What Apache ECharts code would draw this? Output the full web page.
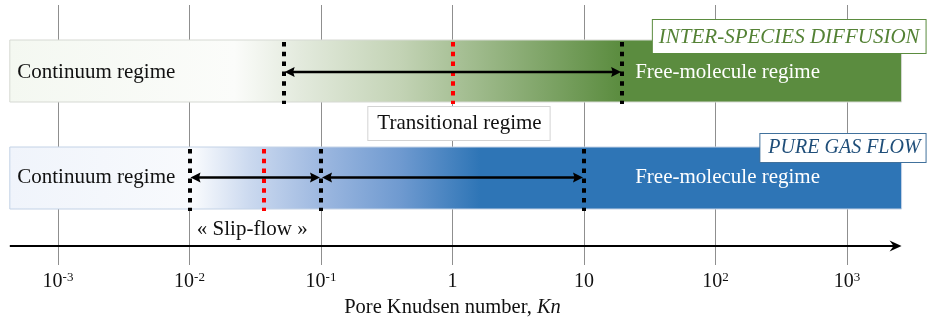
<!DOCTYPE html>
<html><head><meta charset="utf-8">
<script src="https://cdn.jsdelivr.net/npm/echarts@6/dist/echarts.min.js"></script>
<style>html,body{margin:0;padding:0;background:#fff}#c{width:930px;height:322px}</style>
</head><body><div id="c"></div>
<script>
// ---------------- data ----------------
const decadeExponents = [-3, -2, -1, 0, 1, 2, 3];
const tickBase = ['10', '10', '10', '1', '10', '10', '10'];
const tickSup  = ['-3', '-2', '-1', '', '', '2', '3'];
const bandNames = ['INTER-SPECIES DIFFUSION', 'PURE GAS FLOW'];
const knRange = [0.00043, 2600];               // extent of both bands / axis arrow
const diffusionBounds = [0.052, 19.5];         // black dotted limits
const diffusionMid = [1];                      // red dotted
const gasFlowBounds = [0.01, 0.1, 10];
const gasFlowMid = [0.037];
const diffusionArrows = [[0.052, 19.5]];
const gasFlowArrows = [[0.01, 0.1], [0.1, 10]];
const regimeLabels = ['Continuum regime', 'Free-molecule regime'];
const regimeAnchors = [0.00049, 24.5];
const transitionalLabel = 'Transitional regime';
const transitionalAnchor = 1.12;
const slipLabel = '\u00AB Slip-flow \u00BB';
const slipAnchor = 0.03;
const axisTitle = 'Pore Knudsen number, ';
const axisTitleItalic = 'Kn';

// ---------------- layout / style ----------------
const FONT = "'Liberation Serif','Times New Roman',serif";
const rows = [
  {top: 35, bottom: 97, mid: 67, border: '#d6d9d3', titleTop: 15, titleColor: '#548235', titleBorder: '#5b8c3f', titleSize: 21, titlePad: [6, 6, 5, 6]},
  {top: 142, bottom: 204, mid: 172.5, border: '#c3d2e6', titleTop: 129, titleColor: '#1f4e79', titleBorder: '#41719c', titleSize: 20, titlePad: [3, 5, 3, 8]}
];
const axisArrowY = 241;
const bandGradients = [
  [{kn: knRange[0], color: '#f4f8f1'}, {kn: 0.022, color: '#fbfcfa'}, {kn: 0.069, color: '#e3eadd'},
   {kn: 0.4, color: '#c3d3b5'}, {kn: 18.8, color: '#5b8c3f'}, {kn: knRange[1], color: '#5b8c3f'}],
  [{kn: knRange[0], color: '#f0f4fb'}, {kn: 0.011, color: '#f8fafd'}, {kn: 0.0288, color: '#cbd9ef'},
   {kn: 0.1, color: '#9db8e0'}, {kn: 0.4, color: '#6f9ad0'}, {kn: 1.62, color: '#2e75b6'}, {kn: knRange[1], color: '#2e75b6'}]
];
const lg = Math.log10;

const chart = echarts.init(document.getElementById('c'), null, {renderer: 'canvas'});

function xp(api, v) { return api.coord([v, 0])[0]; }
function yp(api, v) { return api.coord([0, v])[1]; }

const bandData = [0, 1].map(i => [lg(knRange[0]), lg(knRange[1]), i]);
const dotData = [];
diffusionBounds.forEach(k => dotData.push([lg(k), 0, 0]));
diffusionMid.forEach(k => dotData.push([lg(k), 0, 1]));
gasFlowBounds.forEach(k => dotData.push([lg(k), 1, 0]));
gasFlowMid.forEach(k => dotData.push([lg(k), 1, 1]));
const arrowData = [];
diffusionArrows.forEach(a => arrowData.push([lg(a[0]), lg(a[1]), 0]));
gasFlowArrows.forEach(a => arrowData.push([lg(a[0]), lg(a[1]), 1]));

function head(x, y, dir) {
  const L = 10, W = 5;
  return {type: 'polygon', shape: {points: [[x, y], [x - dir * L, y - W], [x - dir * (L - 1.5), y], [x - dir * L, y + W]]}, style: {fill: '#000'}};
}

const option = {
  animation: false,
  backgroundColor: '#fff',
  grid: {left: -73.5, right: -48.5, top: 5, bottom: 57, containLabel: false, outerBoundsMode: 'none'},
  xAxis: {
    type: 'value', min: -4, max: 4, interval: 1,
    axisLine: {show: false}, axisTick: {show: false},
    splitLine: {show: true, lineStyle: {color: '#8f8f8f', width: 1}},
    axisLabel: {
      margin: 6,
      formatter: v => {
        const i = decadeExponents.indexOf(Math.round(v));
        if (i < 0) return '';
        return '{b|' + tickBase[i] + '}' + (tickSup[i] ? '{s|' + tickSup[i] + '}' : '');
      },
      rich: {
        b: {fontFamily: FONT, fontSize: 20, color: '#111', lineHeight: 22},
        s: {fontFamily: FONT, fontSize: 13, color: '#111', verticalAlign: 'top', lineHeight: 22, padding: [0, 0, 6, 0]}
      }
    },
    name: '{r|' + axisTitle + '}{i|' + axisTitleItalic + '}',
    nameLocation: 'middle', nameGap: 29,
    nameTextStyle: {
      rich: {
        r: {fontFamily: FONT, fontSize: 20.5, color: '#111'},
        i: {fontFamily: FONT, fontSize: 20.5, color: '#111', fontStyle: 'italic'}
      }
    }
  },
  yAxis: {type: 'value', min: 0, max: 260, inverse: true, show: false},
  series: [
    { // bands
      type: 'custom', data: bandData, silent: true, z: 2,
      renderItem: (params, api) => {
        const i = api.value(2), r = rows[i];
        const x0 = xp(api, api.value(0)), x1 = xp(api, api.value(1));
        const y0 = yp(api, r.top), y1 = yp(api, r.bottom);
        const stops = bandGradients[i].map(s => ({
          offset: Math.min(1, Math.max(0, (xp(api, lg(s.kn)) - x0) / (x1 - x0))), color: s.color}));
        return {type: 'rect', shape: {x: x0, y: y0, width: x1 - x0, height: y1 - y0},
          style: {fill: {type: 'linear', x: 0, y: 0, x2: 1, y2: 0, colorStops: stops}, stroke: r.border, lineWidth: 1}};
      }
    },
    { // dotted limits
      type: 'custom', data: dotData, silent: true, z: 3,
      renderItem: (params, api) => {
        const r = rows[api.value(1)], x = Math.round(xp(api, api.value(0)));
        return {type: 'line', shape: {x1: x, y1: yp(api, r.top) + 2, x2: x, y2: yp(api, r.bottom) + 2},
          style: {stroke: api.value(2) ? '#ff0000' : '#000', lineWidth: 4, lineDash: [4.5, 5.3]}};
      }
    },
    { // double arrows
      type: 'custom', data: arrowData, silent: true, z: 4,
      renderItem: (params, api) => {
        const r = rows[api.value(2)], y = yp(api, r.mid);
        const xa = xp(api, api.value(0)) + 1, xb = xp(api, api.value(1)) - 1;
        return {type: 'group', children: [
          {type: 'line', shape: {x1: xa + 6, y1: y, x2: xb - 6, y2: y}, style: {stroke: '#000', lineWidth: 2.3}},
          head(xa, y, -1), head(xb, y, 1)
        ]};
      }
    },
    { // axis arrow
      type: 'custom', data: [[lg(knRange[0]), lg(knRange[1])]], silent: true, z: 4,
      renderItem: (params, api) => {
        const y = yp(api, axisArrowY), xa = xp(api, api.value(0)), xb = xp(api, api.value(1));
        return {type: 'group', children: [
          {type: 'line', shape: {x1: xa, y1: y, x2: xb - 6, y2: y}, style: {stroke: '#000', lineWidth: 2}},
          {type: 'polygon', shape: {points: [[xb, y], [xb - 12, y - 5.5], [xb - 8, y], [xb - 12, y + 5.5]]}, style: {fill: '#000'}}
        ]};
      }
    },
    { // texts
      type: 'custom', data: [[0]], silent: true, z: 5,
      renderItem: (params, api) => {
        const kids = [];
        rows.forEach((r, i) => {
          kids.push({type: 'text', x: xp(api, lg(regimeAnchors[0])), y: yp(api, r.mid),
            style: {text: regimeLabels[0], fontFamily: FONT, fontSize: 21, fill: '#111', align: 'left', verticalAlign: 'middle'}});
          kids.push({type: 'text', x: xp(api, lg(regimeAnchors[1])), y: yp(api, r.mid),
            style: {text: regimeLabels[1], fontFamily: FONT, fontSize: 21, fill: '#fff', align: 'left', verticalAlign: 'middle'}});
          kids.push({type: 'text', x: xp(api, lg(knRange[1])) + 24, y: yp(api, r.titleTop),
            style: {text: bandNames[i], fontFamily: FONT, fontSize: r.titleSize, fontStyle: 'italic', fill: r.titleColor,
              align: 'right', verticalAlign: 'top', lineHeight: 22,
              backgroundColor: '#fff', borderColor: r.titleBorder, borderWidth: 1, padding: r.titlePad}});
        });
        kids.push({type: 'text', x: xp(api, lg(transitionalAnchor)), y: yp(api, 102),
          style: {text: transitionalLabel, fontFamily: FONT, fontSize: 21, fill: '#111', align: 'center', verticalAlign: 'top',
            lineHeight: 23, backgroundColor: '#fff', borderColor: '#d3d3d3', borderWidth: 1, padding: [5, 8, 5, 9]}});
        kids.push({type: 'text', x: xp(api, lg(slipAnchor)), y: yp(api, 224),
          style: {text: slipLabel, fontFamily: FONT, fontSize: 21, fill: '#111', align: 'center', verticalAlign: 'middle'}});
        return {type: 'group', children: kids};
      }
    }
  ]
};
chart.setOption(option);
</script></body></html>
